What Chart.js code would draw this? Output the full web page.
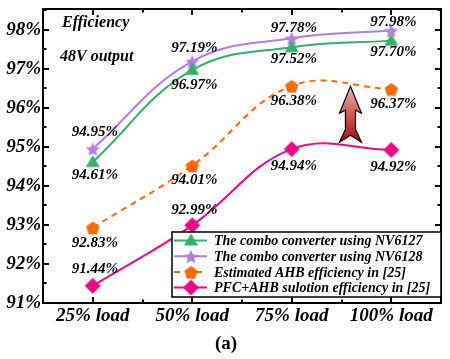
<!DOCTYPE html>
<html>
<head>
<meta charset="utf-8">
<script src="https://cdn.jsdelivr.net/npm/chart.js@4.4.1/dist/chart.umd.min.js"></script>
<style>
html, body { margin: 0; padding: 0; background: #fff; }
#wrap { width: 450px; height: 359px; }
</style>
</head>
<body>
<div id="wrap"><canvas id="effChart" width="450" height="359"></canvas></div>
<script>
// categories and series
const loads = ['25% load', '50% load', '75% load', '100% load'];
const nv6127 = [94.61, 96.97, 97.55, 97.72];
const nv6128 = [94.95, 97.19, 97.78, 97.98];
const ahbEstimated = [92.93, 94.52, 96.56, 96.48];
const pfcAhb = [91.44, 92.99, 94.94, 94.92];

// printed value labels
const nv6127Text = ['94.61%', '96.97%', '97.52%', '97.70%'];
const nv6128Text = ['94.95%', '97.19%', '97.78%', '97.98%'];
const ahbText = ['92.83%', '94.01%', '96.38%', '96.37%'];
const pfcText = ['91.44%', '92.99%', '94.94%', '94.92%'];

const seriesNames = [
    'The combo converter using NV6127',
    'The combo converter using NV6128',
    'Estimated AHB efficiency in [25]',
    'PFC+AHB sulotion efficiency in [25]'
];

const yTicksMin = 91;
const yTicksMax = 98.53;

const GREEN = '#3aad6c';
const PURPLE = '#b27fe2';
const ORANGE = '#ff6a06';
const PINK = '#ea0a84';

const SERIF = '"Liberation Serif", "Times New Roman", serif';
Chart.defaults.font.family = SERIF;
Chart.defaults.color = '#000';

// marker images
const makeMarker = (kind, color, size) => {
    const c = document.createElement('canvas');
    c.width = size;
    c.height = size;
    const g = c.getContext('2d');
    const cx = size / 2, cy = size / 2, R = size / 2 - 0.5;
    g.beginPath();
    if (kind === 'star') {
        for (let i = 0; i < 10; i++) {
            const r = i % 2 ? R * 0.45 : R;
            const ang = -Math.PI / 2 + i * Math.PI / 5;
            const px = cx + r * Math.cos(ang), py = cy + 1 + r * Math.sin(ang);
            i ? g.lineTo(px, py) : g.moveTo(px, py);
        }
    } else if (kind === 'pentagon') {
        for (let i = 0; i < 5; i++) {
            const ang = -Math.PI / 2 + i * 2 * Math.PI / 5;
            const px = cx + R * Math.cos(ang), py = cy + 1 + R * Math.sin(ang);
            i ? g.lineTo(px, py) : g.moveTo(px, py);
        }
    } else if (kind === 'triangle') {
        g.moveTo(cx, cy - R);
        g.lineTo(cx + R, cy + R * 0.7);
        g.lineTo(cx - R, cy + R * 0.7);
    } else {
        g.moveTo(cx, cy - R);
        g.lineTo(cx + R, cy);
        g.lineTo(cx, cy + R);
        g.lineTo(cx - R, cy);
    }
    g.closePath();
    g.fillStyle = color;
    g.fill();
    return c;
};

const markers = [
    makeMarker('triangle', GREEN, 15),
    makeMarker('star', PURPLE, 16),
    makeMarker('pentagon', ORANGE, 15),
    makeMarker('diamond', PINK, 17)
];

const valueTexts = [nv6127Text, nv6128Text, ahbText, pfcText];
const labelOffsets = [
    [13, 15, 12, 11],
    [-17, -13, -10, -8],
    [15, 15, 15, 15],
    [-17, -15, 17, 17]
];

const decor = {
    id: 'decor',
    afterDatasetsDraw(chart) {
        const { ctx, scales: { x, y } } = chart;
        ctx.save();

        // red arrow between 75% and 100%
        const cx = x.getPixelForValue(2.59);
        const tipY = y.getPixelForValue(96.55);
        const tailY = y.getPixelForValue(95.12);
        const grad = ctx.createLinearGradient(0, tipY, 0, tailY);
        grad.addColorStop(0, '#eab0a6');
        grad.addColorStop(1, '#a80c0c');
        ctx.beginPath();
        ctx.moveTo(cx, tipY);
        ctx.lineTo(cx + 11, tipY + 27);
        ctx.lineTo(cx + 5, tipY + 24);
        ctx.lineTo(cx + 5, tailY - 13);
        ctx.lineTo(cx + 11, tailY);
        ctx.lineTo(cx, tailY - 7);
        ctx.lineTo(cx - 11, tailY);
        ctx.lineTo(cx - 5, tailY - 13);
        ctx.lineTo(cx - 5, tipY + 24);
        ctx.lineTo(cx - 11, tipY + 27);
        ctx.closePath();
        ctx.fillStyle = grad;
        ctx.fill();
        ctx.strokeStyle = '#000';
        ctx.lineWidth = 1.2;
        ctx.stroke();

        // value labels
        ctx.font = 'italic bold 15px ' + SERIF;
        ctx.fillStyle = '#000';
        ctx.textAlign = 'center';
        ctx.textBaseline = 'middle';
        chart.data.datasets.forEach((ds, d) => {
            chart.getDatasetMeta(d).data.forEach((pt, i) => {
                ctx.fillText(valueTexts[d][i], pt.x + 2, pt.y + labelOffsets[d][i]);
            });
        });
        ctx.restore();
    },
    afterDraw(chart) {
        const { ctx, chartArea: a, scales: { x, y } } = chart;
        ctx.save();
        ctx.strokeStyle = '#000';

        // frame
        ctx.lineWidth = 2;
        ctx.strokeRect(a.left, a.top, a.right - a.left, a.bottom - a.top);

        // inward ticks
        ctx.beginPath();
        for (let v = yTicksMin; v <= yTicksMax; v += 0.5) {
            const py = Math.round(y.getPixelForValue(v));
            const len = Number.isInteger(v) ? 6 : 3.5;
            ctx.moveTo(a.left, py);
            ctx.lineTo(a.left + len, py);
            ctx.moveTo(a.right, py);
            ctx.lineTo(a.right - len, py);
        }
        for (let i = 0; i < loads.length; i++) {
            const px = Math.round(x.getPixelForValue(i));
            ctx.moveTo(px, a.top);
            ctx.lineTo(px, a.top + 6);
            ctx.moveTo(px, a.bottom);
            ctx.lineTo(px, a.bottom - 6);
            if (i < loads.length - 1) {
                const mx = Math.round(x.getPixelForValue(i + 0.5));
                ctx.moveTo(mx, a.top);
                ctx.lineTo(mx, a.top + 3.5);
                ctx.moveTo(mx, a.bottom);
                ctx.lineTo(mx, a.bottom - 3.5);
            }
        }
        ctx.stroke();

        // legend box
        const lx = a.right - 269, ly = a.bottom - 71, lw = 269, lh = 65;
        ctx.fillStyle = '#fff';
        ctx.fillRect(lx, ly, lw, lh);
        ctx.lineWidth = 1.5;
        ctx.strokeRect(lx, ly, lw, lh);
        ctx.font = 'italic bold 14px ' + SERIF;
        ctx.textAlign = 'left';
        ctx.textBaseline = 'middle';
        chart.data.datasets.forEach((ds, d) => {
            const ry = ly + 8.5 + d * 15.7;
            ctx.beginPath();
            ctx.strokeStyle = ds.borderColor;
            ctx.lineWidth = 2;
            ctx.setLineDash(ds.borderDash || []);
            ctx.moveTo(lx + 2, ry);
            ctx.lineTo(lx + 35, ry);
            ctx.stroke();
            ctx.setLineDash([]);
            const m = markers[d];
            ctx.drawImage(m, lx + 19 - m.width / 2, ry - m.height / 2);
            ctx.fillStyle = '#000';
            ctx.fillText(seriesNames[d], lx + 42, ry + 1);
        });

        // annotations
        ctx.font = 'italic bold 16px ' + SERIF;
        ctx.textBaseline = 'alphabetic';
        ctx.fillText('Efficiency', a.left + 19, 27);
        ctx.fillText('48V output', a.left + 17, 61);

        ctx.font = 'bold 19px ' + SERIF;
        ctx.textAlign = 'center';
        ctx.fillText('(a)', 226, 349);
        ctx.restore();
    }
};

const makeLine = (label, data, color, idx, dashed = false) => ({
    label: label,
    data: data,
    borderColor: color,
    backgroundColor: color,
    borderWidth: 2,
    borderDash: dashed ? [6, 5] : [],
    tension: 0.4,
    pointStyle: markers[idx],
    pointRadius: 7,
    fill: false
});

new Chart(document.getElementById('effChart').getContext('2d'), {
    type: 'line',
    data: {
        labels: loads,
        datasets: [
            makeLine(seriesNames[0], nv6127, GREEN, 0),
            makeLine(seriesNames[1], nv6128, PURPLE, 1),
            makeLine(seriesNames[2], ahbEstimated, ORANGE, 2, true),
            makeLine(seriesNames[3], pfcAhb, PINK, 3)
        ]
    },
    options: {
        responsive: false,
        animation: false,
        devicePixelRatio: 1,
        layout: { padding: { top: 5, right: 2, left: 0, bottom: 0 } },
        plugins: {
            legend: { display: false },
            tooltip: { enabled: false }
        },
        scales: {
            x: {
                offset: true,
                grid: { display: false, drawTicks: false },
                border: { display: false },
                ticks: {
                    font: { size: 19, style: 'italic', weight: 'bold' },
                    color: '#000',
                    padding: 2,
                    maxRotation: 0
                },
                afterFit: (s) => {
                    s.height = 56;
                    s.paddingLeft = 0;
                    s.paddingRight = 0;
                }
            },
            y: {
                min: yTicksMin,
                max: yTicksMax,
                grid: { display: false, drawTicks: false },
                border: { display: false },
                ticks: {
                    stepSize: 1,
                    includeBounds: false,
                    font: { size: 19, style: 'italic', weight: 'bold' },
                    color: '#000',
                    padding: 2,
                    callback: (v) => v + '%'
                },
                afterFit: (s) => {
                    s.width = 43;
                    s.paddingTop = 0;
                    s.paddingBottom = 0;
                }
            }
        }
    },
    plugins: [decor]
});
</script>
</body>
</html>
